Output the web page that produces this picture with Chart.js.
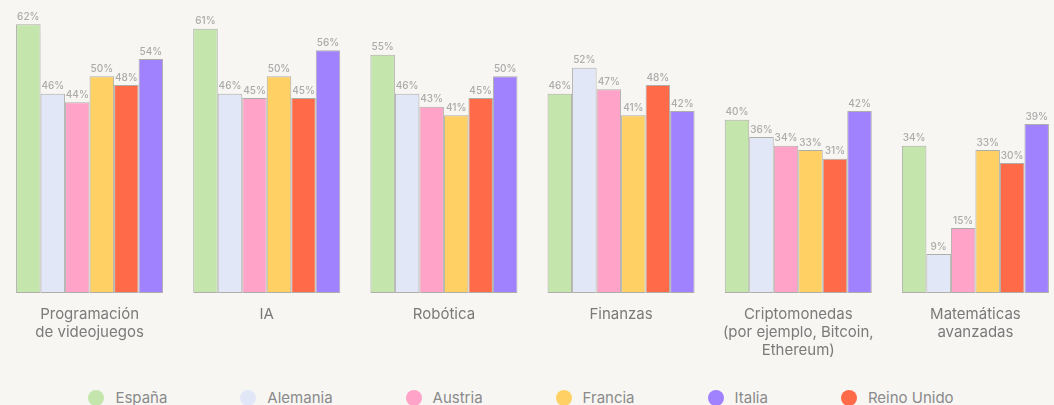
<!DOCTYPE html>
<html>
<head>
<meta charset="utf-8">
<script src="https://cdn.jsdelivr.net/npm/chart.js@4.4.1/dist/chart.umd.min.js"></script>
<style>
  html, body { margin: 0; padding: 0; background: #f7f6f3; overflow: hidden; width: 1054px; height: 405px; }
  #wrap { position: absolute; left: 0; top: 0; width: 1064px; height: 375px; }
  #legend { position: absolute; left: 0; top: 388px; width: 1042px; padding-right: 12px; display: flex; justify-content: center; align-items: center; gap: 73px;
            font-family: Inter, "DejaVu Sans", sans-serif; font-size: 15px; color: #8a8a8a; }
  .li { display: flex; align-items: center; white-space: nowrap; }
  .dot { width: 16px; height: 16px; border-radius: 50%; margin-right: 11px; }
</style>
</head>
<body>
<div id="wrap"><canvas id="c"></canvas></div>
<div id="legend"></div>
<script>
const categories = [
  ["Programación", "de videojuegos"],
  ["IA"],
  ["Robótica"],
  ["Finanzas"],
  ["Criptomonedas", "(por ejemplo, Bitcoin,", "Ethereum)"],
  ["Matemáticas", "avanzadas"]
];
const seriesNames = ["España", "Alemania", "Austria", "Francia", "Reino Unido", "Italia"];
const espana     = [62, 61, 55, 46, 40, 34];
const alemania   = [46, 46, 46, 52, 36, 9];
const austria    = [44, 45, 43, 47, 34, 15];
const francia    = [50, 50, 41, 41, 33, 33];
const reinoUnido = [48, 45, 45, 48, 31, 30];
const italia     = [54, 56, 50, 42, 42, 39];
const seriesColors = ["#c4e6ad", "#e1e7f6", "#ffa3c9", "#ffd064", "#ff6a48", "#a081fe"];
const legendOrder = ["España", "Alemania", "Austria", "Francia", "Italia", "Reino Unido"];

const seriesValues = [espana, alemania, austria, francia, reinoUnido, italia];

const datasets = seriesNames.map((name, i) => ({
  label: name,
  data: seriesValues[i],
  backgroundColor: seriesColors[i],
  borderColor: "rgba(150,150,145,0.75)",
  borderWidth: 1,
  borderSkipped: false,
  barPercentage: 1,
  categoryPercentage: 0.83
}));

const valueLabels = {
  id: "valueLabels",
  afterDatasetsDraw(chart) {
    const ctx = chart.ctx;
    ctx.save();
    ctx.font = "500 10px Inter, 'DejaVu Sans', sans-serif";
    ctx.fillStyle = "#ababab";
    ctx.textAlign = "center";
    ctx.textBaseline = "alphabetic";
    chart.data.datasets.forEach((ds, di) => {
      const meta = chart.getDatasetMeta(di);
      meta.data.forEach((el, i) => {
        ctx.fillText(ds.data[i] + "%", el.x, el.y - 4.5);
      });
    });
    ctx.restore();
  }
};

new Chart(document.getElementById("c"), {
  type: "bar",
  data: { labels: categories, datasets },
  options: {
    responsive: true,
    maintainAspectRatio: false,
    animation: false,
    layout: { padding: { left: 1, right: 0, top: 7, bottom: 0 } },
    plugins: { legend: { display: false }, tooltip: { enabled: false } },
    scales: {
      x: {
        grid: { display: false, drawTicks: false },
        border: { display: false },
        ticks: {
          autoSkip: false, maxRotation: 0, minRotation: 0, padding: 12,
          color: "#7a7a7a",
          font: { family: "Inter, 'DejaVu Sans', sans-serif", size: 15, lineHeight: 1.22 }
        },
        afterFit(scale) { scale.height = 82; }
      },
      y: { display: false, min: 0, max: 66 }
    }
  },
  plugins: [valueLabels]
});

const legend = document.getElementById("legend");
legendOrder.forEach(name => {
  const idx = seriesNames.indexOf(name);
  const item = document.createElement("div");
  item.className = "li";
  const dot = document.createElement("span");
  dot.className = "dot";
  dot.style.background = seriesColors[idx];
  const txt = document.createElement("span");
  txt.textContent = name;
  item.appendChild(dot);
  item.appendChild(txt);
  legend.appendChild(item);
});
</script>
</body>
</html>
